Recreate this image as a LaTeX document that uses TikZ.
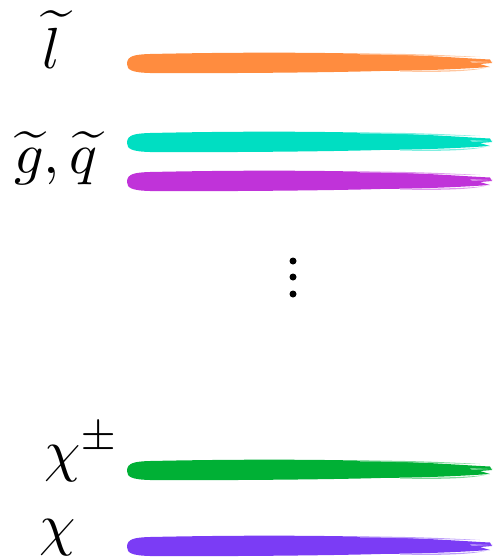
\documentclass[tikz,border=0pt]{standalone}
\usepackage{graphicx}
\begin{document}
\begin{tikzpicture}[x=1pt,y=-1pt,
  lab/.style={inner sep=0pt, anchor=base},
  dotn/.style={circle, fill=black, inner sep=0pt, minimum size=7pt}]
\definecolor{corange}{HTML}{FF8C3F}
\definecolor{ccyan}{HTML}{00DEC2}
\definecolor{cpurple}{HTML}{C033D9}
\definecolor{cgreen}{HTML}{00B035}
\definecolor{cviolet}{HTML}{7B3CF5}
\useasboundingbox (0,0) rectangle (493,560);
\newcommand{\brushstroke}[2]{%
  \begin{scope}[yshift=-#1pt]
  \fill[#2] (127,1) .. controls (127,-7) and (134,-8.5) .. (150,-9)
    .. controls (220,-10.5) and (300,-11) .. (380,-9)
    .. controls (430,-7.5) and (460,-5) .. (490,-3.5)
    -- (492,0) -- (480,1) -- (490,4)
    .. controls (460,6) and (430,7.5) .. (380,8)
    .. controls (330,9.5) and (220,10.5) .. (150,10)
    .. controls (132,9.5) and (127,7) .. (127,1) -- cycle;
  \fill[#2!50] (360,-9.5) .. controls (420,-9.5) and (460,-7) .. (480,-6)
    .. controls (460,-6) and (420,-8) .. (360,-8.5) -- cycle;
  \fill[#2!50] (400,7.5) .. controls (440,8) and (470,7) .. (485,5)
    .. controls (470,8.5) and (440,9.5) .. (400,8.5) -- cycle;
  \fill[#2!60] (470,-2) -- (493,-1) -- (472,0) -- cycle;
  \end{scope}}
\brushstroke{63}{corange}
\brushstroke{142}{ccyan}
\brushstroke{181}{cpurple}
\brushstroke{470}{cgreen}
\brushstroke{546}{cviolet}
\newcommand{\biglab}[1]{\scalebox{5.8}{$#1$}}
\node[lab] (l) at (52,68) {\biglab{\widetilde{l}}};
\node[lab] (gq) at (56,173) {\biglab{\widetilde{g},\widetilde{q}}};
\node[lab] (cpm) at (82,470) {\biglab{\chi^{\pm}}};
\node[lab] (c) at (58,544) {\biglab{\chi}};
\node[dotn] (d1) at (293,261) {};
\node[dotn] (d2) at (293,277) {};
\node[dotn] (d3) at (293,294) {};
\end{tikzpicture}
\end{document}
